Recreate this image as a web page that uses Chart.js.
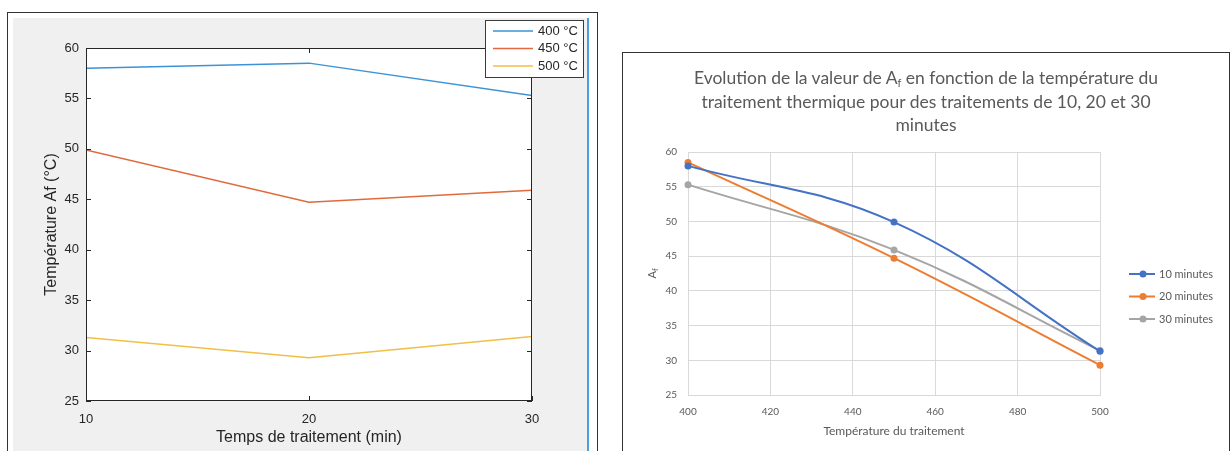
<!DOCTYPE html>
<html>
<head>
<meta charset="utf-8">
<script src="https://cdn.jsdelivr.net/npm/chart.js@4.4.1/dist/chart.umd.min.js"></script>
<style>
  body { margin: 0; background: #fff; width: 1230px; height: 451px; overflow: hidden; position: relative; }
  #matlabFrame { position: absolute; left: 7px; top: 12px; width: 589px; height: 450px;
    border: 1px solid #333; border-bottom: none; background: #fff; }
  #matlabFig { position: absolute; left: 13px; top: 18px; width: 574px; height: 433px; background: #f0f0f0; }
  #matlabEdge { position: absolute; left: 587px; top: 18px; width: 2px; height: 433px; background: #4a9fdc; }
  #leftChart { position: absolute; left: 13px; top: 18px; }
  #excelFrame { position: absolute; left: 622px; top: 52px; width: 606px; height: 400px;
    border: 1px solid #333; border-bottom: none; background: #fff; }
  #excelTitle { position: absolute; left: 623px; top: 66px; width: 606px; text-align: center;
    font-family: Lato, "Open Sans", sans-serif; font-size: 17.5px; line-height: 23.5px; color: #595959; }
  #excelTitle sub { font-size: 11px; vertical-align: -3px; line-height: 0; }
  #rightChart { position: absolute; left: 624px; top: 53px; }
</style>
</head>
<body>
<div id="matlabFrame"></div>
<div id="matlabFig"></div>
<div id="matlabEdge"></div>
<canvas id="leftChart" width="574" height="433"></canvas>

<div id="excelFrame"></div>
<canvas id="rightChart" width="605" height="398"></canvas>
<div id="excelTitle">Evolution de la valeur de A<sub>f</sub> en fonction de la température du<br>traitement thermique pour des traitements de 10, 20 et 30<br>minutes</div>

<script>
// treatment times (min) and temperatures (°C)
const treatTimes = [10, 20, 30];
const treatTemps = [400, 450, 500];

// Af (°C) for each treatment temperature, by time 10 / 20 / 30 min
const af400 = [58.0, 58.5, 55.3];
const af450 = [49.9, 44.7, 45.9];
const af500 = [31.3, 29.3, 31.4];

const tempLabels = ['400 °C', '450 °C', '500 °C'];
const timeLabels = ['10 minutes', '20 minutes', '30 minutes'];

const afByTemp = [af400, af450, af500];

// ---------- left chart (matlab look) ----------
const matlabColors = ['#3b93d6', '#e06a3c', '#f0bf45'];
const ink = '#262626';
const mlFont = 'Liberation Sans, Arial, sans-serif';

const matlabAxes = {
  id: 'matlabAxes',
  beforeDatasetsDraw(chart) {
    const a = chart.chartArea, ctx = chart.ctx;
    ctx.save();
    ctx.fillStyle = '#fff';
    ctx.fillRect(a.left, a.top, a.right - a.left, a.bottom - a.top);
    ctx.restore();
  },
  afterDatasetsDraw(chart) {
    const a = chart.chartArea, ctx = chart.ctx;
    const xs = chart.scales.x, ys = chart.scales.y;
    ctx.save();
    ctx.strokeStyle = ink;
    ctx.lineWidth = 1;
    ctx.strokeRect(a.left + 0.5, a.top + 0.5, a.right - a.left - 1, a.bottom - a.top - 1);
    ctx.beginPath();
    xs.ticks.forEach(t => {
      const px = Math.round(xs.getPixelForValue(t.value)) + 0.5;
      ctx.moveTo(px, a.bottom); ctx.lineTo(px, a.bottom - 5);
      ctx.moveTo(px, a.top); ctx.lineTo(px, a.top + 5);
    });
    ys.ticks.forEach(t => {
      const py = Math.round(ys.getPixelForValue(t.value)) + 0.5;
      ctx.moveTo(a.left, py); ctx.lineTo(a.left + 5, py);
      ctx.moveTo(a.right, py); ctx.lineTo(a.right - 5, py);
    });
    ctx.stroke();

    // legend box, top right
    const bx = 472, by = 2, bw = 98, bh = 57;
    ctx.fillStyle = '#fff';
    ctx.fillRect(bx, by, bw, bh);
    ctx.strokeStyle = '#3a3a3a';
    ctx.strokeRect(bx + 0.5, by + 0.5, bw, bh);
    ctx.font = '13px ' + mlFont;
    ctx.textBaseline = 'middle';
    ctx.fillStyle = ink;
    chart.data.datasets.forEach((ds, i) => {
      const y = by + 11 + i * 17.5;
      ctx.strokeStyle = ds.borderColor;
      ctx.lineWidth = 1.5;
      ctx.beginPath();
      ctx.moveTo(bx + 8, y); ctx.lineTo(bx + 48, y);
      ctx.stroke();
      ctx.fillText(ds.label, bx + 53, y);
    });
    ctx.restore();
  }
};

new Chart(document.getElementById('leftChart'), {
  type: 'line',
  data: {
    datasets: afByTemp.map((vals, i) => ({
      label: tempLabels[i],
      data: treatTimes.map((t, j) => ({ x: t, y: vals[j] })),
      borderColor: matlabColors[i],
      borderWidth: 1.5,
      pointRadius: 0,
      tension: 0
    }))
  },
  options: {
    responsive: false,
    animation: false,
    layout: { padding: { top: 30, right: 55, left: 0, bottom: 0 } },
    plugins: { legend: { display: false }, tooltip: { enabled: false } },
    scales: {
      x: {
        type: 'linear', min: 10, max: 30,
        ticks: { stepSize: 10, color: ink, font: { family: mlFont, size: 13 }, padding: 11 },
        grid: { display: false, drawTicks: false },
        border: { display: false },
        title: { display: true, text: 'Temps de traitement (min)', color: ink,
                 font: { family: mlFont, size: 16 }, padding: { top: 0, bottom: 4 } },
        afterFit: s => { s.height = 50; }
      },
      y: {
        min: 25, max: 60,
        ticks: { stepSize: 5, color: ink, font: { family: mlFont, size: 13 }, padding: 7 },
        grid: { display: false, drawTicks: false },
        border: { display: false },
        title: { display: true, text: 'Température Af (°C)', color: ink,
                 font: { family: mlFont, size: 16 }, padding: { top: 29, bottom: 0 } },
        afterFit: s => { s.width = 73; }
      }
    }
  },
  plugins: [matlabAxes]
});

// ---------- right chart (excel look) ----------
const excelColors = ['#4472c4', '#ed7d31', '#a5a5a5'];
const xlFont = 'Lato, "Open Sans", sans-serif';
const xlText = '#595959';

const excelExtras = {
  id: 'excelExtras',
  afterDraw(chart) {
    const a = chart.chartArea, ctx = chart.ctx;
    ctx.save();
    // y axis title A with subscript f
    ctx.translate(28, (a.top + a.bottom) / 2);
    ctx.rotate(-Math.PI / 2);
    ctx.fillStyle = xlText;
    ctx.textBaseline = 'middle';
    ctx.font = '11px ' + xlFont;
    const w = ctx.measureText('A').width;
    ctx.fillText('A', -5, 0);
    ctx.font = '8px ' + xlFont;
    ctx.fillText('f', -5 + w, 3);
    ctx.restore();

    // legend on the right
    ctx.save();
    ctx.font = '11px ' + xlFont;
    ctx.textBaseline = 'middle';
    chart.data.datasets.forEach((ds, i) => {
      const y = 221 + i * 22.5;
      const x0 = 505;
      ctx.strokeStyle = ds.borderColor;
      ctx.lineWidth = 2;
      ctx.beginPath();
      ctx.moveTo(x0, y); ctx.lineTo(x0 + 26, y);
      ctx.stroke();
      ctx.fillStyle = ds.borderColor;
      ctx.beginPath();
      ctx.arc(x0 + 14, y, 3.5, 0, Math.PI * 2);
      ctx.fill();
      ctx.fillStyle = xlText;
      ctx.fillText(ds.label, x0 + 30, y);
    });
    ctx.restore();
  }
};

new Chart(document.getElementById('rightChart'), {
  type: 'line',
  data: {
    datasets: treatTimes.map((t, j) => ({
      label: timeLabels[j],
      data: treatTemps.map((temp, i) => ({ x: temp, y: afByTemp[i][j] })),
      borderColor: excelColors[j],
      backgroundColor: excelColors[j],
      borderWidth: 2,
      pointRadius: 3.5,
      pointBorderWidth: 0,
      tension: 0.4,
      clip: false
    }))
  },
  options: {
    responsive: false,
    animation: false,
    layout: { padding: { top: 99, right: 129, left: 0, bottom: 0 } },
    plugins: { legend: { display: false }, tooltip: { enabled: false } },
    scales: {
      x: {
        type: 'linear', min: 400, max: 500,
        ticks: { stepSize: 20, color: xlText, font: { family: xlFont, size: 10 }, padding: 11 },
        grid: { color: '#d9d9d9', drawTicks: false },
        border: { color: '#d9d9d9' },
        title: { display: true, text: 'Température du traitement', color: xlText,
                 font: { family: xlFont, size: 12 }, padding: { top: 0, bottom: 13 } },
        afterFit: s => { s.height = 56; }
      },
      y: {
        min: 25, max: 60,
        ticks: { stepSize: 5, color: xlText, font: { family: xlFont, size: 10 }, padding: 11 },
        grid: { color: '#d9d9d9', drawTicks: false },
        border: { color: '#d9d9d9' },
        afterFit: s => { s.width = 64; }
      }
    }
  },
  plugins: [excelExtras]
});
</script>
</body>
</html>
